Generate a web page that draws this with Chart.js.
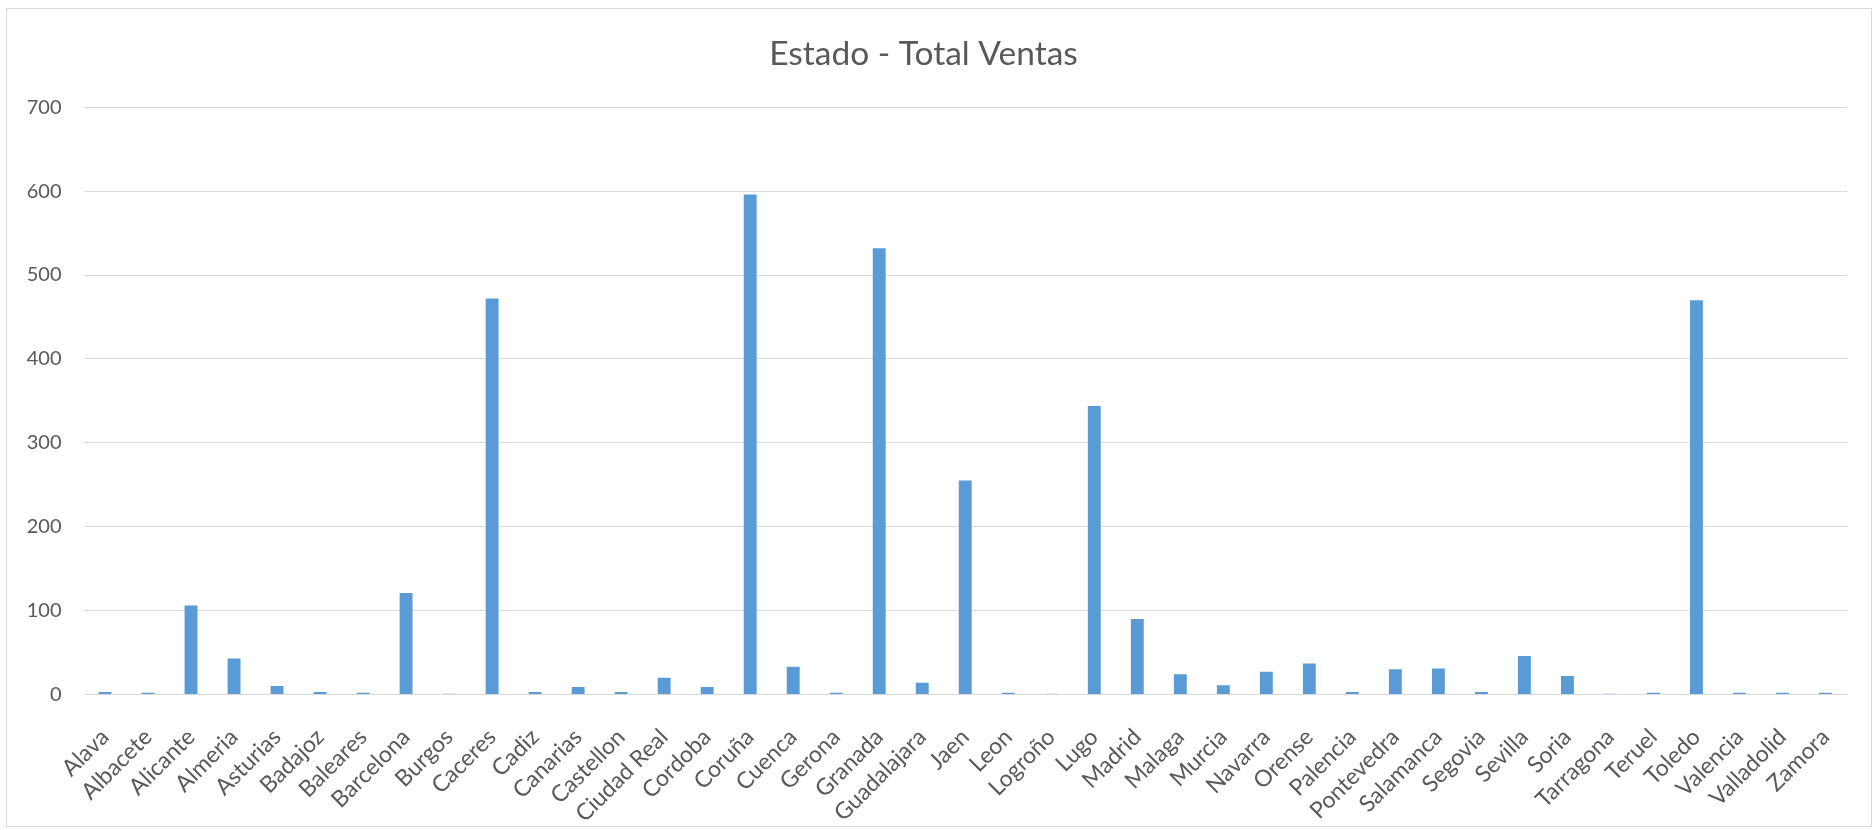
<!DOCTYPE html>
<html>
<head>
<meta charset="utf-8">
<script src="https://cdn.jsdelivr.net/npm/chart.js@4.4.1/dist/chart.umd.min.js"></script>
<style>
    html, body { margin: 0; padding: 0; background: #fff; }
    #wrap { position: relative; width: 1876px; height: 830px; }
</style>
</head>
<body>
<div id="wrap"><canvas id="ventas-chart" width="1876" height="830"></canvas></div>
<script>
// Data
const provincias = ['Alava', 'Albacete', 'Alicante', 'Almeria', 'Asturias', 'Badajoz', 'Baleares',
    'Barcelona', 'Burgos', 'Caceres', 'Cadiz', 'Canarias', 'Castellon', 'Ciudad Real', 'Cordoba',
    'Coruña', 'Cuenca', 'Gerona', 'Granada', 'Guadalajara', 'Jaen', 'Leon', 'Logroño', 'Lugo',
    'Madrid', 'Malaga', 'Murcia', 'Navarra', 'Orense', 'Palencia', 'Pontevedra', 'Salamanca',
    'Segovia', 'Sevilla', 'Soria', 'Tarragona', 'Teruel', 'Toledo', 'Valencia', 'Valladolid', 'Zamora'];
const totalVentas = [3, 2, 106, 43, 10, 3, 2,
    121, 1, 472, 3, 9, 3, 20, 9,
    596, 33, 2, 532, 14, 255, 2, 1, 344,
    90, 24, 11, 27, 37, 3, 30, 31,
    3, 46, 22, 1, 2, 470, 2, 2, 2];
const yTicks = [0, 100, 200, 300, 400, 500, 600, 700];

const textColor = '#595959';
const gridColor = '#d9d9d9';
const fontFamily = "Lato, 'Liberation Sans', sans-serif";

// Light frame around the whole chart, like the spreadsheet chart box
const framePlugin = {
    id: 'frame',
    beforeDraw(chart) {
        const ctx = chart.ctx;
        ctx.save();
        ctx.fillStyle = '#fff';
        ctx.fillRect(0, 0, chart.width, chart.height);
        ctx.strokeStyle = gridColor;
        ctx.lineWidth = 1;
        ctx.strokeRect(6.5, 8.5, 1865, 818);
        ctx.restore();
    }
};

const ctx = document.getElementById('ventas-chart').getContext('2d');
const ventasChart = new Chart(ctx, {
    type: 'bar',
    data: {
        labels: provincias,
        datasets: [{
            label: 'Total Ventas',
            data: totalVentas,
            backgroundColor: '#5b9bd5',
            borderColor: '#5b9bd5',
            borderWidth: 0,
            barPercentage: 0.3,
            categoryPercentage: 1
        }]
    },
    options: {
        responsive: false,
        animation: false,
        devicePixelRatio: 1,
        layout: {
            padding: { left: 0, right: 29, top: 0, bottom: 0 }
        },
        plugins: {
            legend: { display: false },
            tooltip: { enabled: false },
            title: {
                display: true,
                text: 'Estado - Total Ventas',
                color: textColor,
                font: { family: fontFamily, size: 33.5, weight: 'normal' },
                padding: { top: 34, bottom: 33 }
            }
        },
        scales: {
            x: {
                grid: { display: false },
                border: { display: false },
                ticks: {
                    color: textColor,
                    font: { family: fontFamily, size: 23 },
                    minRotation: 45,
                    maxRotation: 45,
                    autoSkip: false,
                    padding: 21
                },
                afterFit(scale) {
                    scale.height = 135.5;
                }
            },
            y: {
                min: yTicks[0],
                max: yTicks[yTicks.length - 1],
                afterBuildTicks(axis) {
                    axis.ticks = yTicks.map(v => ({ value: v }));
                },
                grid: { color: gridColor, lineWidth: 1, drawTicks: false },
                border: { display: false },
                ticks: {
                    color: textColor,
                    font: { family: fontFamily, size: 20 },
                    padding: 22
                },
                afterFit(scale) {
                    scale.width = 83.5;
                }
            }
        }
    },
    plugins: [framePlugin]
});
</script>
</body>
</html>
